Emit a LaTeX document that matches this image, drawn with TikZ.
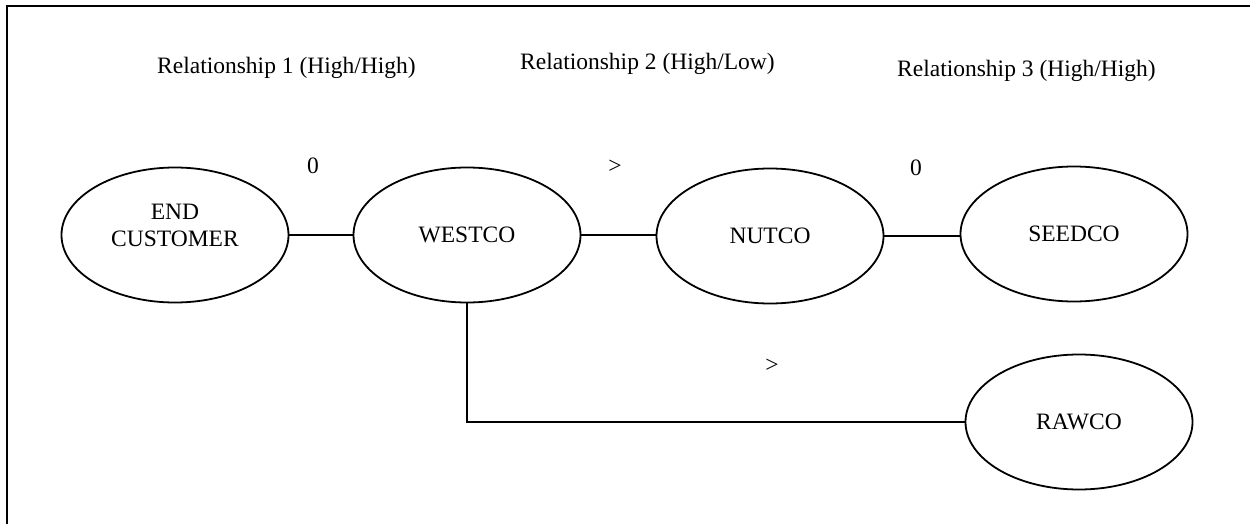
\documentclass[tikz,border=0pt]{standalone}
\usepackage{fontspec}
\setmainfont{Liberation Serif}
\usetikzlibrary{shapes.geometric}
\begin{document}
\begin{tikzpicture}[x=1pt,y=-1pt,
  every node/.style={font=\fontsize{23.5}{27}\selectfont},
  firm/.style={ellipse,draw,line width=1.8pt,minimum width=227pt,minimum height=135pt,inner sep=0pt},
  link/.style={line width=1.7pt},
  caption/.style={inner sep=0pt,anchor=base west},
  sign/.style={inner sep=0pt}]
\useasboundingbox (0,0) rectangle (1250,524);
\clip (0,0) rectangle (1250,524);
% outer frame
\draw[line width=2.6pt] (7,6) rectangle (1270,540);

% relationship headings
\node[caption] (r1) at (157,74) {Relationship 1 (High/High)};
\node[caption] (r2) at (520,70) {Relationship 2 (High/Low)};
\node[caption] (r3) at (897,77) {Relationship 3 (High/High)};

% firms
\node[firm] (ec) at (175,235) {};
\node[inner sep=0pt,align=center] (ectxt) at (175,225.5) {END\\CUSTOMER};
\node[firm] (wc) at (467,235) {WESTCO};
\node[firm] (nc) at (770,236) {NUTCO};
\node[firm] (sc) at (1074,234) {SEEDCO};
\node[firm] (rc) at (1079,422) {RAWCO};

% relationship signs
\node[sign] (s1) at (313,166) {0};
\node[sign] (s2) at (615,167) {>};
\node[sign] (s3) at (916,168) {0};
\node[sign] (s4) at (772,366) {>};

% links between firms
\draw[link] (ec.east) -- (wc.west);
\draw[link] (wc.east) -- (wc.east -| nc.west);
\draw[link] (nc.east) -- (nc.east -| sc.west);
\draw[link] (wc.south) |- (rc.west);
\end{tikzpicture}
\end{document}
